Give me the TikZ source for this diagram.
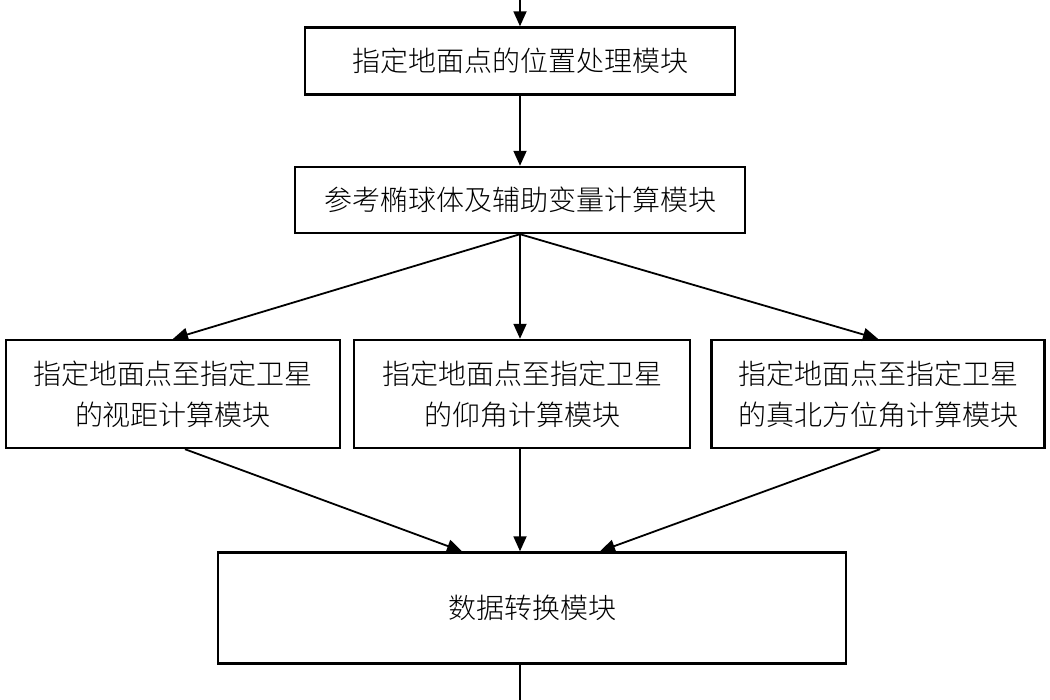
\documentclass[tikz,border=0pt]{standalone}
\usepackage{fontspec}
\setmainfont{Noto Sans CJK SC}[UprightFont=* Light]
\usetikzlibrary{arrows.meta,positioning}

\begin{document}
\begin{tikzpicture}[x=1pt,y=-1pt,
    modbox/.style={draw, line width=2.4pt, inner sep=0pt, align=center,
      font=\fontsize{28}{41}\selectfont},
    flow/.style={-{Triangle[length=15pt,width=13pt]}, line width=1.8pt}]
    \useasboundingbox (0,0) rectangle (1050,700);
    % modules
    \node[modbox, minimum width=430pt, minimum height=67pt] (pos) at (520,61) {指定地面点的位置处理模块};
    \node[modbox, minimum width=450pt, minimum height=66pt] (ref) at (520,200) {参考椭球体及辅助变量计算模块};
    \node[modbox, minimum width=334pt, minimum height=108pt] (dist) at (173,394) {指定地面点至指定卫星\\的视距计算模块};
    \node[modbox, minimum width=336pt, minimum height=108pt] (elev) at (522,394) {指定地面点至指定卫星\\的仰角计算模块};
    \node[modbox, minimum width=333pt, minimum height=108pt] (azim) at (878,394) {指定地面点至指定卫星\\的真北方位角计算模块};
    \node[modbox, minimum width=628pt, minimum height=111pt] (conv) at (532,608) {数据转换模块};
    \coordinate (in) at (520,0);
    \coordinate (out) at (520,700);
    % connectors
    \draw[flow] (in) -- (pos);
    \draw[flow] (pos) -- (ref);
    \draw[flow] (ref.south) -- (dist.north);
    \draw[flow] (ref.south) -- (ref.south |- elev.north);
    \draw[flow] (ref.south) -- (azim.north);
    \draw[flow] ([xshift=12pt]dist.south) -- ([xshift=-70pt]conv.north);
    \draw[flow] (ref.south |- elev.south) -- (ref.south |- conv.north);
    \draw[flow] ([xshift=2pt]azim.south) -- ([xshift=68pt]conv.north);
    \draw[line width=1.8pt] (conv.south -| out) -- (out);
\end{tikzpicture}
\end{document}
